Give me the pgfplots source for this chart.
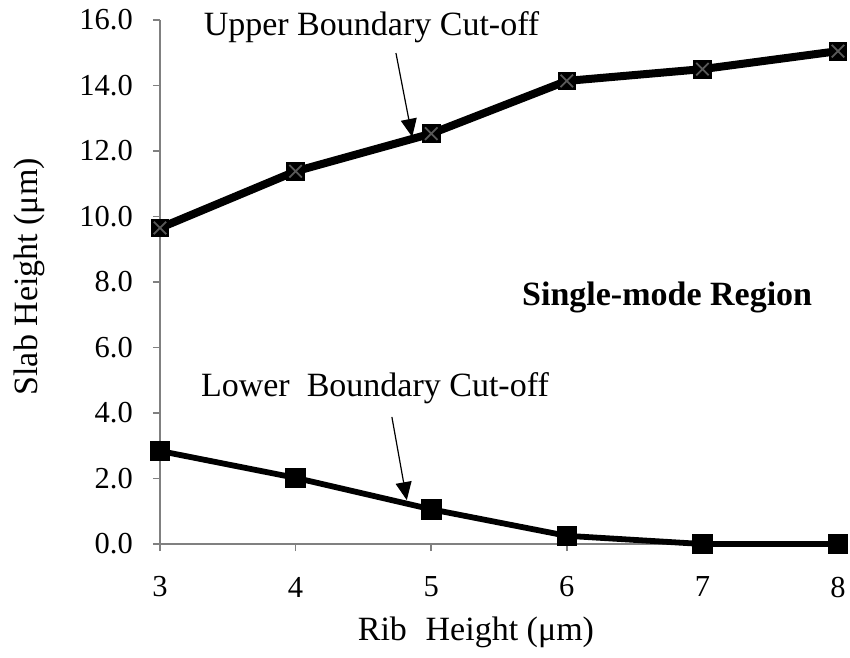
\documentclass[border=0pt]{standalone}
\usepackage{pgfplots}
\pgfplotsset{compat=1.18}
\usepackage{fontspec}
\setmainfont{Liberation Serif}
\usetikzlibrary{arrows.meta}

\pgfplotstableread{
x y
3 9.65
4 11.38
5 12.53
6 14.14
7 14.50
8 15.05
}\upperdata
\pgfplotstableread{
x y
3 2.84
4 2.02
5 1.06
6 0.25
7 0.00
8 0.00
}\lowerdata

\begin{document}
\begin{tikzpicture}
\begin{axis}[
  scale only axis,
  width=678pt, height=524pt,
  xmin=3, xmax=8, ymin=0, ymax=16,
  xtick={3,4,5,6,7,8},
  ytick={0,2,...,16},
  yticklabel style={/pgf/number format/fixed, /pgf/number format/fixed zerofill, /pgf/number format/precision=1},
  /pgf/number format/assume math mode=true,
  axis x line*=bottom, axis y line*=left,
  axis line style={gray, line width=1.5pt, -},
  tick style={gray, line width=1.5pt},
  tick align=outside,
  major tick length=7pt,
  ticklabel style={font=\fontsize{30.5}{34}\selectfont},
  xticklabel style={anchor=center, inner sep=0pt, yshift=-36pt},
  yticklabel style={anchor=east, inner sep=0pt, xshift=-20pt},
  xlabel={Rib\hspace{0.55em}Height (μm)},
  ylabel={Slab Height (μm)},
  label style={font=\fontsize{34}{38}\selectfont},
  xlabel style={at={(axis description cs:0.466,-0.168)}, anchor=center, inner sep=0pt},
  ylabel style={at={(axis description cs:-0.192,0.51)}, anchor=center, inner sep=0pt},
  clip=false,
]
\addplot[black, line width=8pt, mark=square*, mark size=8.8pt,
  mark options={solid, line width=0.8pt}] table[x=x,y=y] {\upperdata};
\addplot[only marks, mark=x, mark size=8.8pt, gray!70!black,
  mark options={line width=1.8pt}] table[x=x,y=y] {\upperdata};
\addplot[black, line width=5.8pt, mark=square*, mark size=9.8pt,
  mark options={solid, line width=0.8pt}] table[x=x,y=y] {\lowerdata};

\node[font=\fontsize{34}{38}\selectfont] at (axis cs:4.56,15.79) {Upper Boundary Cut-off};
\draw[-{Triangle[length=18pt,width=16pt]}, line width=1.2pt] (axis cs:4.74,14.99) -- (axis cs:4.86,12.43);
\node[font=\fontsize{34}{38}\selectfont] at (axis cs:4.585,4.76) {Lower\hspace{0.5em}Boundary Cut-off};
\draw[-{Triangle[length=18pt,width=16pt]}, line width=1.2pt] (axis cs:4.71,3.88) -- (axis cs:4.82,1.34);
\node[font=\bfseries\fontsize{34}{38}\selectfont] at (axis cs:6.74,7.54) {Single-mode Region};
\end{axis}
\pgfresetboundingbox
\path (-160pt,-113pt) rectangle (690pt,544pt);
\end{tikzpicture}
\end{document}
